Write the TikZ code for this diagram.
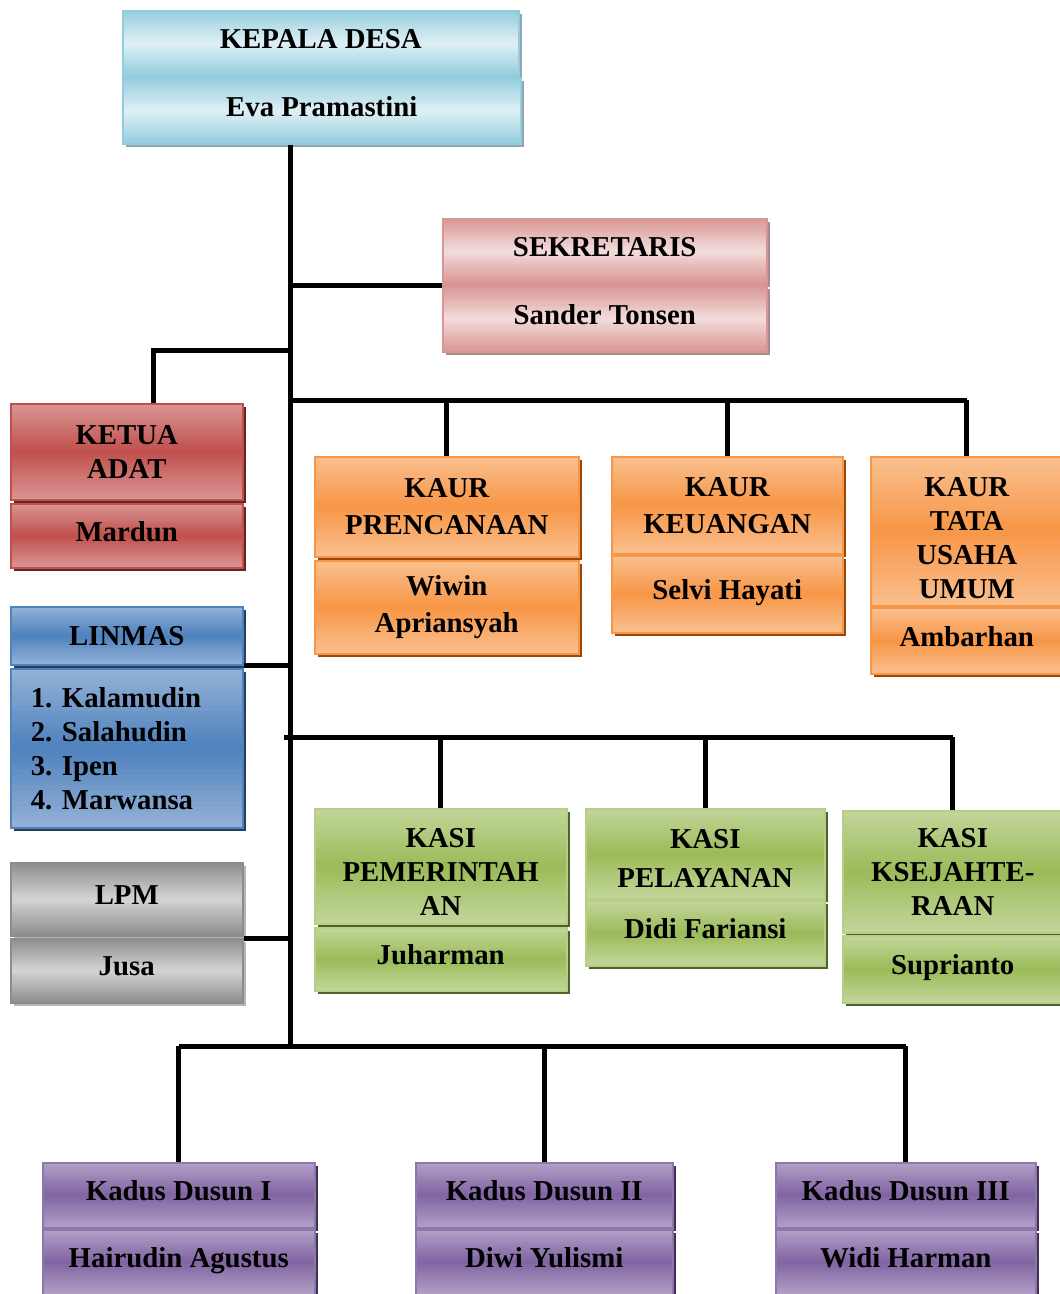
\documentclass[tikz,border=0pt]{standalone}
\usepackage{fontspec}
\setmainfont{Liberation Serif}
\usetikzlibrary{shadows,calc}
\definecolor{kadesTua}{HTML}{93CDDD}
\definecolor{kadesMuda}{HTML}{DFF0F5}
\definecolor{kadesBayang}{HTML}{8FA6AE}
\definecolor{sekTua}{HTML}{D99594}
\definecolor{sekMuda}{HTML}{F2DCDB}
\definecolor{sekBayang}{HTML}{AA8C8C}
\definecolor{merahTua}{HTML}{C0504D}
\definecolor{merahMuda}{HTML}{DA9694}
\definecolor{merahBayang}{HTML}{632523}
\definecolor{oranyeTua}{HTML}{F79646}
\definecolor{oranyeMuda}{HTML}{FAC090}
\definecolor{oranyeBayang}{HTML}{984807}
\definecolor{biruTua}{HTML}{4F81BD}
\definecolor{biruMuda}{HTML}{95B3D7}
\definecolor{biruBayang}{HTML}{243F60}
\definecolor{abuTua}{HTML}{8C8C8C}
\definecolor{abuMuda}{HTML}{D4D4D4}
\definecolor{abuBayang}{HTML}{B5B5B5}
\definecolor{hijauTua}{HTML}{9BBB59}
\definecolor{hijauMuda}{HTML}{C3D69B}
\definecolor{hijauBayang}{HTML}{4F6228}
\definecolor{unguTua}{HTML}{8064A2}
\definecolor{unguMuda}{HTML}{B2A1C7}
\definecolor{unguBayang}{HTML}{3F3151}
\begin{document}
\frenchspacing
\begin{tikzpicture}[x=1pt,y=-1pt,line join=miter,
	garis/.style={line width=5pt},
	bayang/.style={drop shadow={shadow xshift=3pt,shadow yshift=-3pt,fill=#1,opacity=1}},
	gradasi/.style 2 args={path picture={
		\foreach \i in {0,...,29}{
			\pgfmathtruncatemacro\p{abs(2*(\i+0.5)/30-1)*100}
			\fill[#1!\p!#2] ($(path picture bounding box.north west)!{\i/30}!(path picture bounding box.south west)$)
				rectangle ($(path picture bounding box.north east)!{(\i+1.3)/30}!(path picture bounding box.south east)$);
		}}},
	kotak/.style={draw,line width=1.5pt,anchor=north west,inner sep=0pt,align=center,text depth=9pt,font=\bfseries\fontsize{28.8}{34}\selectfont},
	kades/.style={kotak,draw=kadesTua,gradasi={kadesTua}{kadesMuda},bayang=kadesBayang},
	sek/.style={kotak,draw=sekTua,gradasi={sekTua}{sekMuda},bayang=sekBayang},
	merah/.style={kotak,draw=merahTua,gradasi={merahMuda}{merahTua},bayang=merahBayang},
	oranye/.style={kotak,draw=oranyeTua,gradasi={oranyeMuda}{oranyeTua},bayang=oranyeBayang},
	biru/.style={kotak,draw=biruTua,gradasi={biruMuda}{biruTua},bayang=biruBayang},
	abu/.style={kotak,draw=abuTua,gradasi={abuTua}{abuMuda},bayang=abuBayang},
	hijau/.style={kotak,draw=hijauMuda!70!hijauTua,gradasi={hijauMuda}{hijauTua},bayang=hijauBayang},
	ungu/.style={kotak,draw=unguTua!70!unguMuda,gradasi={unguMuda}{unguTua},bayang=unguBayang}]
	\useasboundingbox (0,0) rectangle (1060,1294);
	% kepala desa dan sekretaris
	\node[kades,minimum width=396pt,minimum height=65pt] (kadesT) at (122,10) {KEPALA DESA};
	\node[kades,minimum width=398pt,minimum height=66pt] (kadesB) at (122,77) {Eva Pramastini};
	\node[sek,minimum width=324pt,minimum height=65pt] (sekT) at (442,218) {SEKRETARIS};
	\node[sek,minimum width=324pt,minimum height=66pt] (sekB) at (442,285) {Sander Tonsen};
	% kolom kiri
	\node[merah,minimum width=232pt,minimum height=96pt,text depth=] (adatT) at (10,403) {KETUA\\ADAT};
	\node[merah,minimum width=232pt,minimum height=64pt] (adatB) at (10,503) {Mardun};
	\node[biru,minimum width=232pt,minimum height=58pt,text depth=] (linT) at (10,606) {LINMAS};
	\node[biru,minimum width=232pt,minimum height=159pt,align=left,text width=192pt,text depth=] (linB) at (10,668) {1. Kalamudin\\2. Salahudin\\3. Ipen\\4. Marwansa};
	\node[abu,minimum width=232pt,minimum height=73pt] (lpmT) at (10,862) {LPM};
	\node[abu,minimum width=232pt,minimum height=64pt] (lpmB) at (10,938) {Jusa};
	% kaur
	\node[oranye,minimum width=264pt,minimum height=100pt,text depth=] (prenT) at (314,456) {KAUR\\[3pt]PRENCANAAN};
	\node[oranye,minimum width=264pt,minimum height=93pt,text depth=] (prenB) at (314,560) {Wiwin\\[3pt]Apriansyah};
	\node[oranye,minimum width=231pt,minimum height=97pt,text depth=] (keuT) at (611,456) {KAUR\\[3pt]KEUANGAN};
	\node[oranye,minimum width=231pt,minimum height=77pt] (keuB) at (611,555) {Selvi Hayati};
	\node[oranye,minimum width=192pt,minimum height=149pt,text depth=,text height=135pt] (tataT) at (870,456) {KAUR\\TATA\\USAHA\\UMUM};
	\node[oranye,minimum width=192pt,minimum height=66pt] (tataB) at (870,607) {Ambarhan};
	% kasi
	\node[hijau,minimum width=252pt,minimum height=115pt,text depth=,text height=98pt] (pemT) at (314,808) {KASI\\PEMERINTAH\\AN};
	\node[hijau,minimum width=252pt,minimum height=63pt] (pemB) at (314,927) {Juharman};
	\node[hijau,minimum width=239pt,minimum height=90pt,text depth=,text height=67pt] (pelT) at (585,808) {KASI\\[5pt]PELAYANAN};
	\node[hijau,minimum width=239pt,minimum height=65pt] (pelB) at (585,900) {Didi Fariansi};
	\node[hijau,minimum width=220pt,minimum height=122pt,text depth=] (ksejT) at (842,810) {KASI\\KSEJAHTE-\\RAAN};
	\node[hijau,minimum width=220pt,minimum height=67pt] (ksejB) at (842,935) {Suprianto};
	% kadus
	\node[ungu,minimum width=272pt,minimum height=65pt] (dus1T) at (42,1162) {Kadus Dusun I};
	\node[ungu,minimum width=272pt,minimum height=65pt] (dus1B) at (42,1229) {Hairudin Agustus};
	\node[ungu,minimum width=257pt,minimum height=65pt] (dus2T) at (415,1162) {Kadus Dusun II};
	\node[ungu,minimum width=257pt,minimum height=65pt] (dus2B) at (415,1229) {Diwi Yulismi};
	\node[ungu,minimum width=260pt,minimum height=65pt] (dus3T) at (775,1162) {Kadus Dusun III};
	\node[ungu,minimum width=260pt,minimum height=65pt] (dus3B) at (775,1229) {Widi Harman};
	% garis
	\coordinate (spine) at (290,1046);
	\coordinate (adatJ) at (153,350);
	\coordinate (kaurbus) at (290,400);
	\coordinate (kasibus) at (284,737);
	\coordinate (kadusbus) at (188,1046);
	\draw[garis] (kadesB.south -| spine) -- (spine);
	\draw[garis] (sekB.north west) -- (sekB.north west -| spine);
	\draw[garis] (adatJ -| spine) -- (adatJ) -- (adatJ |- adatT.north);
	\draw[garis] (kaurbus) -- (kaurbus -| tataT.north);
	\foreach \n in {prenT,keuT,tataT}
		\draw[garis] (kaurbus -| \n.north) -- (\n.north);
	\draw[garis] (linT.south east) -- (linT.south east -| spine);
	\draw[garis] (kasibus) -- (kasibus -| ksejT.north);
	\foreach \n in {pemT,pelT,ksejT}
		\draw[garis] (kasibus -| \n.north) -- (\n.north);
	\draw[garis] (lpmB.north east) -- (lpmB.north east -| spine);
	\draw[garis] (kadusbus -| dus1T.north) -- (kadusbus -| dus3T.north);
	\foreach \n in {dus1T,dus2T,dus3T}
		\draw[garis] (kadusbus -| \n.north) -- (\n.north);
\end{tikzpicture}
\end{document}
